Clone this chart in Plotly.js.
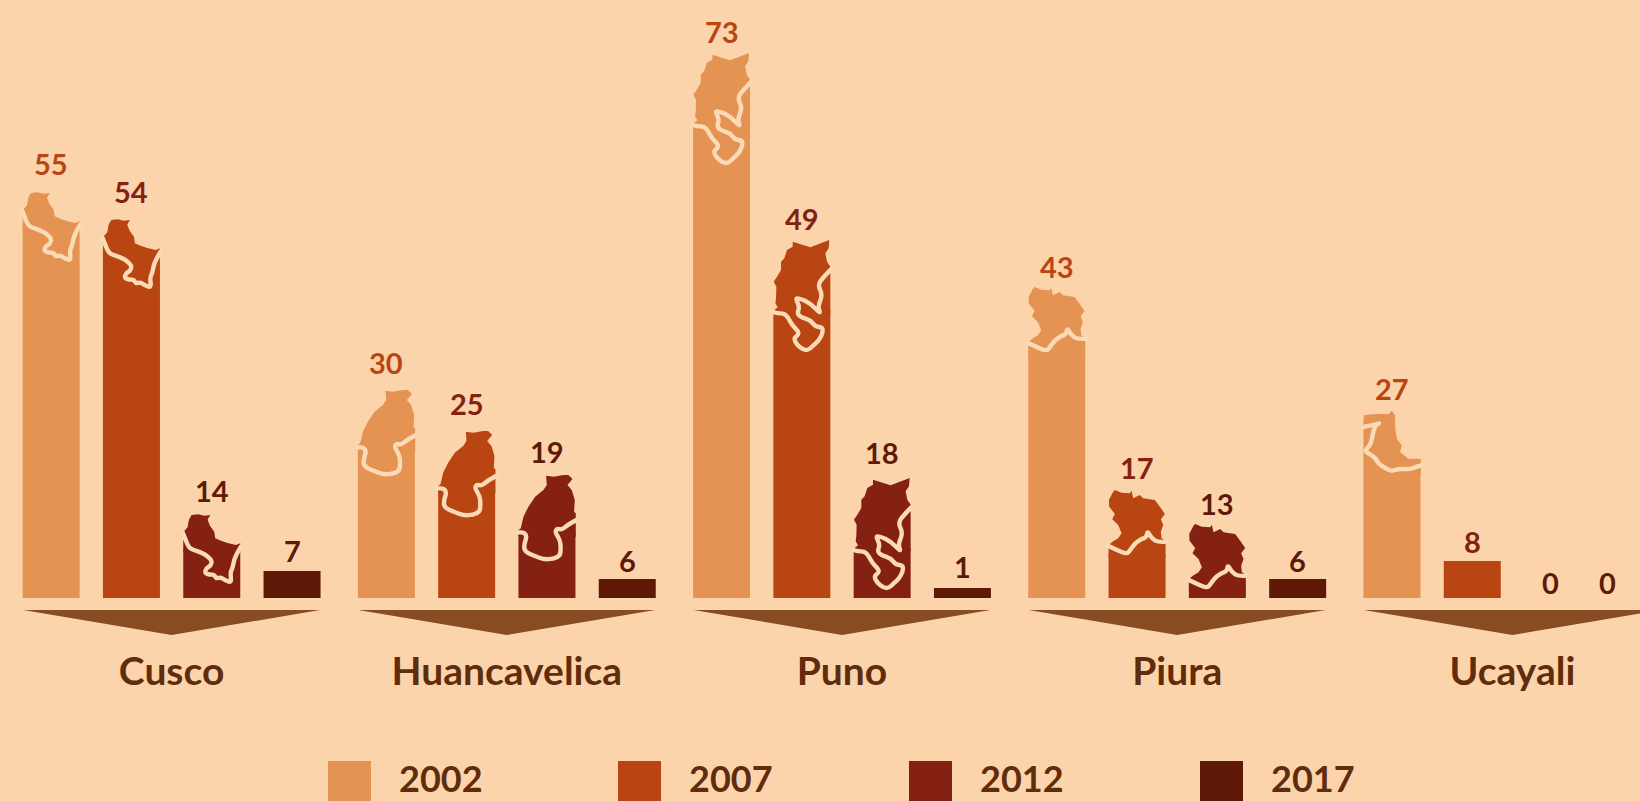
<!DOCTYPE html>
<html>
<head>
<meta charset="utf-8">
<script src="https://cdn.plot.ly/plotly-3.0.1.min.js"></script>
<style>html,body{margin:0;padding:0;background:#FCD4AC;overflow:hidden}#chart{width:1640px;height:801px}
.shapelayer path{stroke-linejoin:round;stroke-linecap:round}</style>
</head>
<body>
<div id="chart"></div>
<script>
// ---- categories and series ----
const departments = ['Cusco', 'Huancavelica', 'Puno', 'Piura', 'Ucayali'];
const years = ['2002', '2007', '2012', '2017'];
// printed values
const values2002 = [55, 30, 73, 43, 27];
const values2007 = [54, 25, 49, 17, 8];
const values2012 = [14, 19, 18, 13, 0];
const values2017 = [7, 6, 1, 6, 0];
// drawn height of each pictogram (the picture is not to a linear scale)
const drawn2002 = [406, 208, 545, 311, 187];
const drawn2007 = [379, 167, 358, 108, 37];
const drawn2012 = [84, 123, 120, 74, 0];
const drawn2017 = [27, 19, 10, 19, 0];
// distance from pictogram top to its value label
const gap2002 = [29, 28, 22, 21, 23];
const gap2007 = [28, 28, 22, 23, 20];
const gap2012 = [24, 24, 26, 21, 16];
const gap2017 = [21, 19, 22, 19, 16];

const seriesValues = [values2002, values2007, values2012, values2017];
const seriesDrawn = [drawn2002, drawn2007, drawn2012, drawn2017];
const seriesGap = [gap2002, gap2007, gap2012, gap2017];

// ---- styles ----
const bg = '#FCD4AC';
const seriesColors = ['#E59353', '#B94513', '#842112', '#5E1A07'];
const labelColors = ['#B94513', '#842112', '#5E1A07', '#5E1A07'];
const textColor = '#602C0B';
const arrowColor = '#874C21';
const font = 'Lato, Carlito, Calibri, sans-serif';

// ---- map silhouettes per department, in a local outline space (171 units = one bar width) ----
const mapCusco = {
  left: 67, top: 155, floor: 270,
  outer: [[67,270],[67,212],[68,208],[80,195],[84,172],[92,158],[112,156],[130,160],[148,158],[140,172],[147,190],[160,208],[163,228],[180,235],[200,242],[225,248],[238,243],[238,270]],
  inner: [[66,212],[75,235],[85,258],[105,265],[125,272],[140,282],[153,295],[150,310],[135,318],[132,332],[145,337],[160,337],[165,348],[180,345],[190,352],[212,362],[208,330],[215,318],[220,290],[230,270],[240,253]]
};
const mapHuancavelica = {
  left: 55, top: 150, floor: 335,
  outer: [[55,335],[55,315],[62,310],[70,275],[85,245],[105,215],[130,195],[140,180],[138,152],[160,155],[190,150],[205,150],[217,162],[202,180],[215,195],[224,225],[222,260],[227,265],[227,335]],
  inner: [[53,322],[72,322],[80,335],[73,355],[72,375],[85,385],[105,393],[130,403],[160,402],[180,392],[182,370],[180,345],[165,322],[170,310],[185,315],[205,298],[229,285]]
};
const mapPuno = {
  left: 39, top: 160, floor: 380,
  outer: [[39,380],[39,372],[52,362],[45,350],[47,335],[48,300],[40,285],[50,270],[62,250],[62,225],[72,215],[80,190],[97,180],[97,165],[150,182],[207,160],[205,185],[195,200],[200,225],[210,240],[210,380]],
  inner: [[37,375],[50,380],[72,380],[85,395],[95,415],[115,435],[113,445],[100,455],[110,475],[130,490],[145,490],[160,475],[175,462],[187,440],[187,422],[165,420],[150,400],[125,393],[110,382],[118,360],[105,335],[118,335],[150,350],[182,383],[172,360],[187,325],[172,295],[190,270],[212,248]]
};
const mapPiura = {
  left: 86, top: 140, floor: 340,
  outer: [[86,340],[86,305],[98,295],[115,285],[125,270],[115,245],[97,228],[105,212],[88,190],[87,170],[100,145],[105,140],[125,148],[150,150],[155,142],[160,165],[180,155],[190,165],[225,170],[240,190],[255,212],[243,228],[250,245],[243,265],[245,285],[257,292],[257,340]],
  inner: [[84,307],[110,320],[140,332],[150,322],[165,300],[185,287],[200,282],[203,262],[215,285],[235,297],[259,295]]
};
const mapUcayali = {
  left: 70, top: 122, floor: 310,
  outer: [[70,310],[70,150],[72,135],[95,132],[120,130],[145,132],[155,122],[165,135],[165,170],[170,205],[185,225],[180,245],[205,265],[242,265],[242,310]],
  inner: [[68,170],[95,165],[122,157],[105,165],[98,190],[93,220],[80,235],[75,243],[90,252],[105,262],[115,280],[135,293],[155,303],[175,295],[210,297],[225,290],[244,285]]
};
const mapOutlines = [mapCusco, mapHuancavelica, mapPuno, mapPiura, mapUcayali];

// ---- page geometry ----
const W = 1640, H = 801, baseline = 598;
const categoryPx = 335.2;
const groupWidth = 80.3 / categoryPx;   // one slot of a group, in category units
const barWidth = 57 / categoryPx;
const outlineUnit = 171;                // outline units per bar width
const barWidthPx = 57;
const overlap = 3;                      // bar reaches this far into the silhouette so no seam shows

const hasMap = v => v >= 13;
const floorDepth = m => (m.floor - m.top) / outlineUnit * barWidthPx;

// ---- bars ----
const traces = years.map((yr, s) => ({
  type: 'bar',
  name: yr,
  x: departments,
  y: seriesDrawn[s].map((d, g) => hasMap(seriesValues[s][g]) ? d - floorDepth(mapOutlines[g]) + overlap : d),
  marker: { color: seriesColors[s], line: { width: 0 } },
  hoverinfo: 'skip',
  showlegend: false
}));

// ---- pictogram tops, arrows, labels ----
const shapes = [];
const annotations = [];

function toPoints(points, g, s, drawn, outline) {
  const left = g + (s - 1.5) * groupWidth - barWidth / 2;
  return points.map(([a, b]) => [
    left + (a - outline.left) / outlineUnit * barWidth,
    drawn - (b - outline.top) / outlineUnit * barWidthPx
  ]);
}
const fmt = p => p[0].toFixed(5) + ',' + p[1].toFixed(2);
function polygonPath(pts) {
  return 'M' + pts.map(fmt).join('L') + 'Z';
}
// rounded course: each outline point is a control point between the midpoints of its neighbours
function smoothPath(pts) {
  const mid = (a, b) => [(a[0] + b[0]) / 2, (a[1] + b[1]) / 2];
  let d = 'M' + fmt(pts[0]) + 'L' + fmt(mid(pts[0], pts[1]));
  for (let i = 1; i < pts.length - 1; i++) {
    d += 'Q' + fmt(pts[i]) + ' ' + fmt(i === pts.length - 2 ? pts[i + 1] : mid(pts[i], pts[i + 1]));
  }
  return d;
}

departments.forEach((dep, g) => {
  // arrow under each group
  const half = 148.5 / categoryPx;
  const yTop = (baseline - 610) / baseline, yTip = (baseline - 635) / baseline;
  shapes.push({
    type: 'path', xref: 'x', yref: 'paper', layer: 'above',
    path: `M${g - half},${yTop}L${g + half},${yTop}L${g},${yTip}Z`,
    fillcolor: arrowColor, line: { width: 0 }
  });
  years.forEach((yr, s) => {
    const v = seriesValues[s][g], d = seriesDrawn[s][g], outline = mapOutlines[g];
    if (hasMap(v)) {
      shapes.push({
        type: 'path', xref: 'x', yref: 'y', layer: 'above',
        path: polygonPath(toPoints(outline.outer, g, s, d, outline)),
        fillcolor: seriesColors[s], line: { width: 0 }
      });
      shapes.push({
        type: 'path', xref: 'x', yref: 'y', layer: 'above',
        path: smoothPath(toPoints(outline.inner, g, s, d, outline)),
        fillcolor: 'rgba(0,0,0,0)', line: { color: '#FBDAB6', width: 4.4 }
      });
    }
    annotations.push({
      x: g + (s - 1.5) * groupWidth, y: d + seriesGap[s][g],
      xref: 'x', yref: 'y', text: String(v), showarrow: false,
      xanchor: 'center', yanchor: 'middle',
      xshift: (g === 4 && s === 3) ? -25 : (g === 4 && s === 2) ? -2 : 0,
      font: { family: font, size: 29, weight: 700, color: labelColors[s] }
    });
  });
});

// ---- legend ----
const legendSwatchX = [328, 618, 909, 1200];
years.forEach((yr, s) => {
  const x0 = legendSwatchX[s];
  shapes.push({
    type: 'rect', xref: 'paper', yref: 'paper', layer: 'above',
    x0: x0 / W, x1: (x0 + 43) / W,
    y0: (baseline - 761) / baseline, y1: (baseline - 803) / baseline,
    fillcolor: seriesColors[s], line: { width: 0 }
  });
  annotations.push({
    x: (x0 + 113) / W, y: (baseline - 778) / baseline,
    xref: 'paper', yref: 'paper', text: yr, showarrow: false,
    xanchor: 'center', yanchor: 'middle',
    font: { family: font, size: 36, weight: 700, color: textColor }
  });
});

const layout = {
  width: W, height: H,
  margin: { l: 0, r: 0, t: 0, b: H - baseline, pad: 0 },
  paper_bgcolor: bg, plot_bgcolor: bg,
  barmode: 'group',
  bargap: 1 - 4 * groupWidth,
  bargroupgap: 1 - barWidth / groupWidth,
  showlegend: false,
  xaxis: {
    type: 'category',
    categoryorder: 'array', categoryarray: departments,
    range: [-171.6 / categoryPx, (W - 171.6) / categoryPx],
    showgrid: false, zeroline: false, showline: false, ticks: '',
    ticklabelstandoff: 47, automargin: false, fixedrange: true,
    tickfont: { family: font, size: 39, weight: 700, color: textColor }
  },
  yaxis: {
    range: [0, baseline], visible: false, fixedrange: true, automargin: false
  },
  shapes, annotations
};

Plotly.newPlot('chart', traces, layout, { displayModeBar: false, responsive: false });
</script>
</body>
</html>
